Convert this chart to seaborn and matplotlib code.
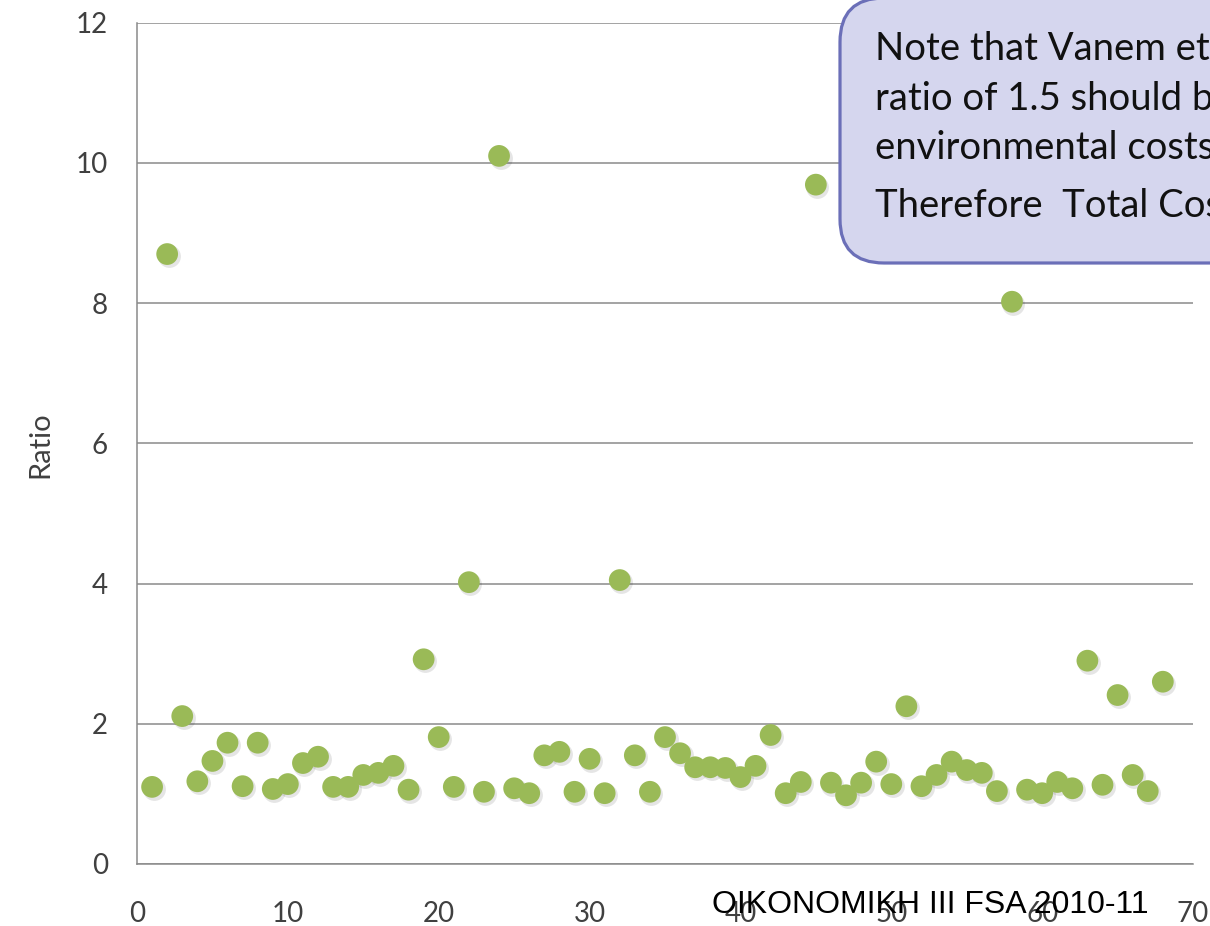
import matplotlib
matplotlib.use("Agg")
import matplotlib.pyplot as plt
import matplotlib.transforms as mtransforms
from matplotlib.patches import FancyBboxPatch
import seaborn as sns
import pandas as pd

# ---------------- data ----------------
case_index = [1, 2, 3, 4, 5, 6, 7, 8, 9, 10,
              11, 12, 13, 14, 15, 16, 17, 18, 19, 20,
              21, 22, 23, 24, 25, 26, 27, 28, 29, 30,
              31, 32, 33, 34, 35, 36, 37, 38, 39, 40,
              41, 42, 43, 44, 45, 46, 47, 48, 49, 50,
              51, 52, 53, 54, 55, 56, 57, 58, 59, 60,
              61, 62, 63, 64, 65, 66, 67, 68]
ratio = [1.10, 8.70, 2.11, 1.18, 1.47, 1.73, 1.11, 1.73, 1.07, 1.14,
         1.44, 1.53, 1.10, 1.10, 1.27, 1.30, 1.40, 1.06, 2.92, 1.81,
         1.10, 4.02, 1.03, 10.10, 1.08, 1.01, 1.55, 1.60, 1.03, 1.50,
         1.01, 4.05, 1.55, 1.03, 1.81, 1.58, 1.38, 1.38, 1.37, 1.24,
         1.40, 1.84, 1.01, 1.17, 9.69, 1.16, 0.98, 1.16, 1.46, 1.14,
         2.25, 1.11, 1.27, 1.46, 1.34, 1.30, 1.04, 8.02, 1.06, 1.01,
         1.17, 1.08, 2.90, 1.13, 2.41, 1.27, 1.04, 2.60]
x_ticks = [0, 10, 20, 30, 40, 50, 60, 70]
y_ticks = [0, 2, 4, 6, 8, 10, 12]
y_label = "Ratio"
note_lines = ["Note that Vanem et al. (2008) suggest that a",
              "ratio of 1.5 should be used to include the",
              "environmental costs of an oil spill.",
              "Therefore  Total Cost = 1.5 x Cleanup Cost"]
footer = "OIKONOMIKH III FSA 2010-11"

df = pd.DataFrame({"case": case_index, "ratio": ratio})

# ---------------- style ----------------
sns.set_style("white")
plt.rcParams["font.family"] = ["Lato", "DejaVu Sans"]

W, H, DPI = 1210, 926, 100
fig = plt.figure(figsize=(W / DPI, H / DPI), dpi=DPI)
ax = fig.add_axes([137 / W, 1 - 864 / H, (1193 - 137) / W, (864 - 22.7) / H])

grid_col = "#8a8a8a"
text_col = "#404040"
green = "#9aba57"

# soft shadow under the markers
shadow_tr = mtransforms.offset_copy(ax.transData, fig=fig, x=1.5, y=-2.0, units="dots")
ax.scatter(df["case"], df["ratio"], s=270, color="#000000", alpha=0.10,
           linewidths=0, transform=shadow_tr, zorder=2)

sns.scatterplot(data=df, x="case", y="ratio", ax=ax, s=245, color=green,
                edgecolor="none", linewidth=0, zorder=3, legend=False)

ax.set_xlim(0, 70)
ax.set_ylim(0, 12)
ax.set_xticks(x_ticks)
ax.set_yticks(y_ticks)
ax.set_xticklabels([str(v) for v in x_ticks])
ax.set_yticklabels([str(v) for v in y_ticks])
ax.set_xlabel("")
ax.set_ylabel("")

ax.yaxis.grid(True, color=grid_col, linewidth=1.1)
ax.xaxis.grid(False)
ax.set_axisbelow(True)
for s in ["top", "right"]:
    ax.spines[s].set_visible(False)
for s in ["left", "bottom"]:
    ax.spines[s].set_color(grid_col)
    ax.spines[s].set_linewidth(1.1)

ax.tick_params(axis="x", length=0, pad=27, labelsize=20, labelcolor=text_col)
ax.tick_params(axis="y", length=0, pad=21, labelsize=20, labelcolor=text_col)
for lab in ax.get_xticklabels():
    lab.set_verticalalignment("top")

fig.text(40 / W, 1 - 445 / H, y_label, rotation=90, ha="center", va="center",
         fontsize=21, color=text_col)

# ---------------- callout box ----------------
box = FancyBboxPatch((840, H - 263), 700, 265,
                     boxstyle="round,pad=0,rounding_size=44",
                     transform=mtransforms.IdentityTransform(),
                     facecolor="#d5d6ee", edgecolor="#6b6fb8", linewidth=2.3,
                     zorder=10, clip_on=False)
fig.add_artist(box)
baselines = [60, 110, 159, 217]
for line, b in zip(note_lines, baselines):
    fig.text(875 / W, 1 - b / H, line, ha="left", va="baseline",
             fontsize=27.5, color="#111111", zorder=11)

# ---------------- footer ----------------
fig.text(930 / W, 1 - 905 / H, footer, ha="center", va="center",
         fontsize=23, color="black", family=["Liberation Sans", "DejaVu Sans"],
         zorder=12)

fig.savefig("out.png", dpi=DPI)
